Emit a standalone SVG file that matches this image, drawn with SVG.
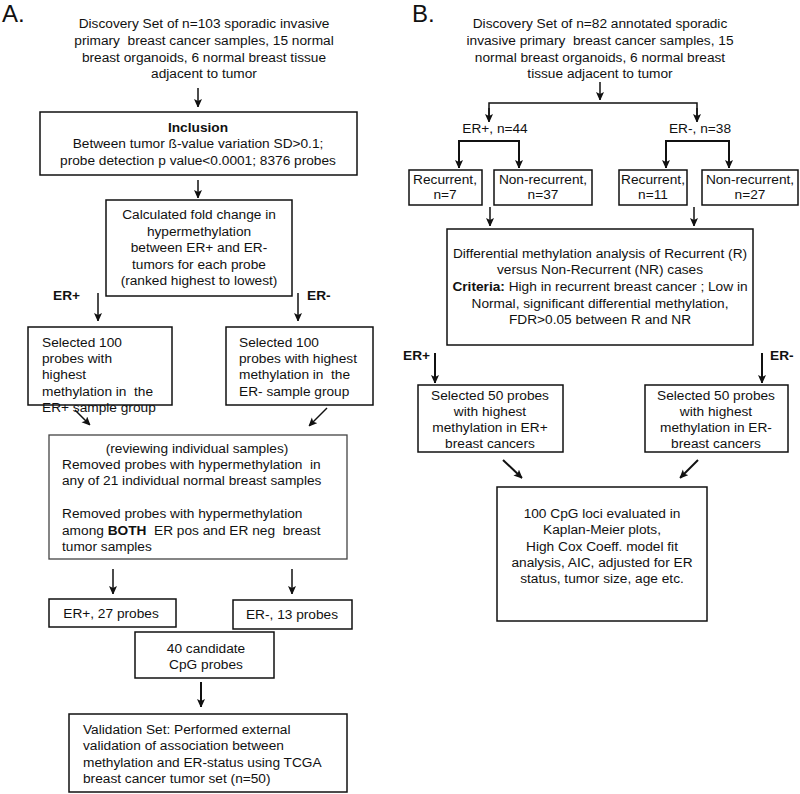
<svg xmlns="http://www.w3.org/2000/svg" width="800" height="794" viewBox="0 0 800 794">
<defs>
<marker id="ah" markerWidth="8" markerHeight="11" refX="8" refY="4" orient="auto" markerUnits="userSpaceOnUse">
<path d="M0,0 L9,4 L0,8 L2,4 Z" fill="#111"/>
</marker>
</defs>
<style>
text{font-family:"Liberation Sans",Arial,sans-serif;font-size:13.7px;fill:#111;white-space:pre}
.c{text-anchor:middle}
.b{font-weight:bold}
.big{font-size:24px}
.box{fill:#fff;stroke:#111;stroke-width:1.5}
.gbox{fill:#fff;stroke:#444;stroke-width:1.3}
.ln{fill:none;stroke:#111;stroke-width:1.5}
.tk{fill:none;stroke:#111;stroke-width:2}
</style>
<rect width="800" height="794" fill="#fff"/>
<text x="2" y="22" class="big">A.</text>
<text x="412" y="22" class="big">B.</text>

<g id="connectors">
<line class="ln" x1="198" y1="88" x2="198" y2="107" marker-end="url(#ah)"/>
<line class="ln" x1="198" y1="180" x2="198" y2="198" marker-end="url(#ah)"/>
<line class="ln" x1="98" y1="293" x2="98" y2="321" marker-end="url(#ah)"/>
<line class="ln" x1="298" y1="293" x2="298" y2="321" marker-end="url(#ah)"/>
<line class="ln" x1="75" y1="410" x2="90" y2="425" marker-end="url(#ah)"/>
<line class="ln" x1="327" y1="408" x2="309" y2="426" marker-end="url(#ah)"/>
<line class="ln" x1="113" y1="569" x2="113" y2="594" marker-end="url(#ah)"/>
<line class="ln" x1="292" y1="569" x2="292" y2="594" marker-end="url(#ah)"/>
<line class="tk" x1="201" y1="682" x2="201" y2="707" marker-end="url(#ah)"/>

<line class="ln" x1="600" y1="82" x2="600" y2="100" marker-end="url(#ah)"/>
<polyline class="ln" points="489,118 489,103 697,103 697,118"/>
<line class="ln" x1="489" y1="108" x2="489" y2="122" marker-end="url(#ah)"/>
<line class="ln" x1="697" y1="108" x2="697" y2="122" marker-end="url(#ah)"/>
<polyline class="tk" points="459,160 459,141 519,141 519,160"/>
<line class="tk" x1="459" y1="150" x2="459" y2="168" marker-end="url(#ah)"/>
<line class="tk" x1="519" y1="150" x2="519" y2="168" marker-end="url(#ah)"/>
<polyline class="tk" points="666,160 666,141 729,141 729,160"/>
<line class="tk" x1="666" y1="150" x2="666" y2="168" marker-end="url(#ah)"/>
<line class="tk" x1="729" y1="150" x2="729" y2="168" marker-end="url(#ah)"/>
<line class="ln" x1="490" y1="207" x2="490" y2="226" marker-end="url(#ah)"/>
<line class="ln" x1="694" y1="207" x2="694" y2="226" marker-end="url(#ah)"/>
<line class="tk" x1="435" y1="353" x2="435" y2="383" marker-end="url(#ah)"/>
<line class="tk" x1="762" y1="353" x2="762" y2="383" marker-end="url(#ah)"/>
<line class="tk" x1="503" y1="460" x2="522" y2="478" marker-end="url(#ah)"/>
<line class="tk" x1="698" y1="460" x2="680" y2="478" marker-end="url(#ah)"/>
</g>

<g id="a-discovery">
<text x="204" y="28" class="c">Discovery Set of n=103 sporadic invasive</text>
<text x="204" y="45" class="c">primary  breast cancer samples, 15 normal</text>
<text x="204" y="62" class="c">breast organoids, 6 normal breast tissue</text>
<text x="204" y="78" class="c">adjacent to tumor</text>
</g>
<g id="a-inclusion">
<rect class="box" x="40" y="112" width="317" height="63"/>
<text x="198" y="132" class="c b">Inclusion</text>
<text x="198" y="148" class="c">Between tumor ß-value variation SD&gt;0.1;</text>
<text x="198" y="165" class="c">probe detection p value&lt;0.0001; 8376 probes</text>
</g>
<g id="a-fold">
<rect class="box" x="106" y="200" width="186" height="96"/>
<text x="199" y="219" class="c">Calculated fold change in</text>
<text x="199" y="236" class="c">hypermethylation</text>
<text x="199" y="252" class="c">between ER+ and ER-</text>
<text x="199" y="269" class="c">tumors for each probe</text>
<text x="199" y="285" class="c">(ranked highest to lowest)</text>
</g>
<text x="53" y="300" class="b">ER+</text>
<text x="307" y="300" class="b">ER-</text>
<g id="a-sel-pos">
<rect class="box" x="28" y="327" width="144" height="78"/>
<text x="42" y="347">Selected 100</text>
<text x="42" y="363">probes with</text>
<text x="42" y="379">highest</text>
<text x="42" y="396">methylation in  the</text>
<text x="42" y="412">ER+ sample group</text>
</g>
<g id="a-sel-neg">
<rect class="box" x="226" y="327" width="147" height="78"/>
<text x="239" y="347">Selected 100</text>
<text x="239" y="363">probes with highest</text>
<text x="239" y="379">methylation in  the</text>
<text x="239" y="396">ER- sample group</text>
</g>
<g id="a-review">
<rect class="gbox" x="49" y="435" width="298" height="124"/>
<text x="197" y="453" class="c">(reviewing individual samples)</text>
<text x="62" y="469">Removed probes with hypermethylation  in</text>
<text x="62" y="485">any of 21 individual normal breast samples</text>
<text x="62" y="518">Removed probes with hypermethylation</text>
<text x="62" y="535">among <tspan class="b">BOTH</tspan>  ER pos and ER neg  breast</text>
<text x="62" y="551">tumor samples</text>
</g>
<g id="a-pos27">
<rect class="box" x="49" y="599" width="127" height="28"/>
<text x="111" y="618" class="c">ER+, 27 probes</text>
</g>
<g id="a-neg13">
<rect class="box" x="233" y="600" width="119" height="29"/>
<text x="292" y="619" class="c">ER-, 13 probes</text>
</g>
<g id="a-cand">
<rect class="box" x="135" y="632" width="139" height="46"/>
<text x="206" y="653" class="c">40 candidate</text>
<text x="206" y="669" class="c">CpG probes</text>
</g>
<g id="a-valid">
<rect class="box" x="69" y="714" width="278" height="78"/>
<text x="83" y="734">Validation Set: Performed external</text>
<text x="83" y="750">validation of association between</text>
<text x="83" y="767">methylation and ER-status using TCGA</text>
<text x="83" y="783">breast cancer tumor set (n=50)</text>
</g>

<g id="b-discovery">
<text x="600" y="28" class="c">Discovery Set of n=82 annotated sporadic</text>
<text x="600" y="45" class="c">invasive primary  breast cancer samples, 15</text>
<text x="600" y="62" class="c">normal breast organoids, 6 normal breast</text>
<text x="600" y="78" class="c">tissue adjacent to tumor</text>
</g>
<g id="b-erpos">
<text x="495" y="133" class="c">ER+, n=44</text>
</g>
<g id="b-erneg">
<text x="700" y="133" class="c">ER-, n=38</text>
</g>
<g id="b-rec7">
<rect class="box" x="409" y="170" width="73" height="35"/>
<text x="445" y="184" class="c">Recurrent,</text>
<text x="445" y="199" class="c">n=7</text>
</g>
<g id="b-nrec37">
<rect class="box" x="494" y="170" width="98" height="35"/>
<text x="543" y="184" class="c">Non-recurrent,</text>
<text x="543" y="199" class="c">n=37</text>
</g>
<g id="b-rec11">
<rect class="box" x="619" y="170" width="68" height="35"/>
<text x="653" y="184" class="c">Recurrent,</text>
<text x="653" y="199" class="c">n=11</text>
</g>
<g id="b-nrec27">
<rect class="box" x="702" y="170" width="96" height="35"/>
<text x="750" y="184" class="c">Non-recurrent,</text>
<text x="750" y="199" class="c">n=27</text>
</g>
<g id="b-diff">
<rect class="box" x="447" y="229" width="306" height="116"/>
<text x="600" y="258" class="c">Differential methylation analysis of Recurrent (R)</text>
<text x="600" y="274" class="c">versus Non-Recurrent (NR) cases</text>
<text x="600" y="291" class="c"><tspan class="b">Criteria:</tspan> High in recurrent breast cancer ; Low in</text>
<text x="600" y="308" class="c">Normal, significant differential methylation,</text>
<text x="600" y="324" class="c">FDR&gt;0.05 between R and NR</text>
</g>
<text x="403" y="360" class="b">ER+</text>
<text x="770" y="360" class="b">ER-</text>
<g id="b-sel-pos">
<rect class="box" x="418" y="385" width="145" height="67"/>
<text x="490" y="400" class="c">Selected 50 probes</text>
<text x="490" y="416" class="c">with highest</text>
<text x="490" y="432" class="c">methylation in ER+</text>
<text x="490" y="448" class="c">breast cancers</text>
</g>
<g id="b-sel-neg">
<rect class="box" x="645" y="385" width="143" height="67"/>
<text x="716" y="400" class="c">Selected 50 probes</text>
<text x="716" y="416" class="c">with highest</text>
<text x="716" y="432" class="c">methylation in ER-</text>
<text x="716" y="448" class="c">breast cancers</text>
</g>
<g id="b-final">
<rect class="box" x="497" y="487" width="210" height="134"/>
<text x="602" y="518" class="c">100 CpG loci evaluated in</text>
<text x="602" y="534" class="c">Kaplan-Meier plots,</text>
<text x="602" y="551" class="c">High Cox Coeff. model fit</text>
<text x="602" y="567" class="c">analysis, AIC, adjusted for ER</text>
<text x="602" y="583" class="c">status, tumor size, age etc.</text>
</g>
</svg>
